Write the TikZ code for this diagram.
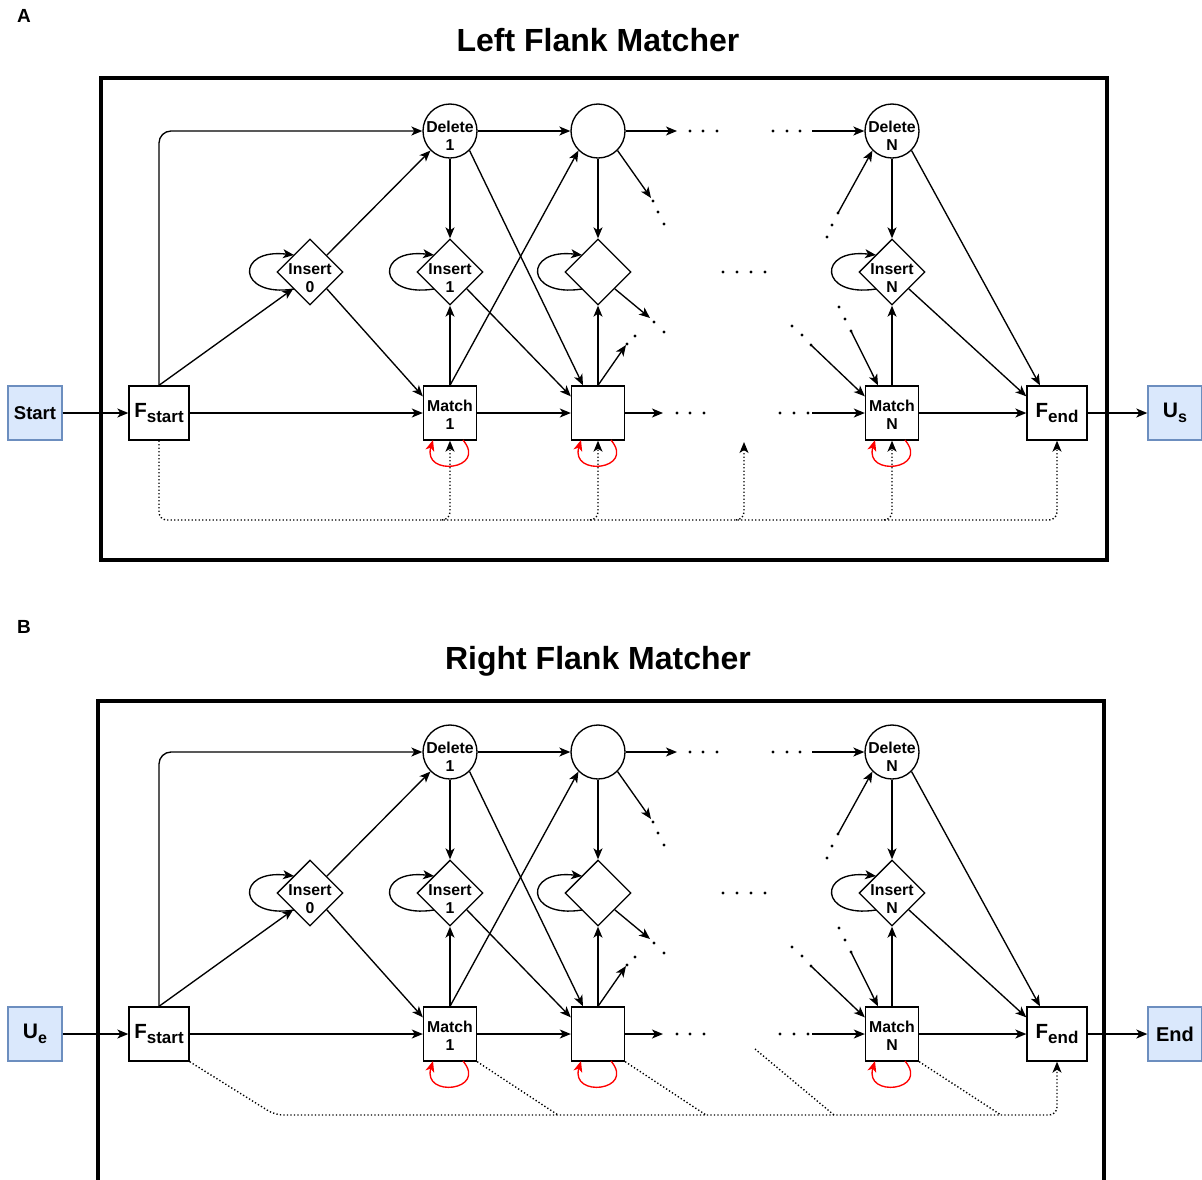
\documentclass[tikz,border=0pt]{standalone}
\usepackage{fontspec}
\setmainfont{Liberation Sans}
\usetikzlibrary{arrows.meta,shapes.geometric,calc}
\definecolor{termfill}{HTML}{DAE8FC}
\definecolor{termborder}{HTML}{6C8EBF}
\tikzset{
  tipstyle/.style={-{Stealth[length=11pt,width=9pt,inset=3pt]}},
  ln/.style={line width=1.35pt, draw=black},
  arr/.style={ln, tipstyle},
  box/.style={draw, line width=1.35pt, minimum width=53pt, minimum height=54pt, inner sep=0pt, align=center, fill=white, font=\bfseries\fontsize{15.5}{18}\selectfont},
  fbox/.style={box, minimum width=60pt},
  termbox/.style={draw=termborder, fill=termfill, line width=1.35pt, minimum width=54pt, minimum height=54pt, inner sep=0pt, font=\bfseries\fontsize{20}{24}\selectfont},
  circ/.style={circle, draw, fill=white, line width=1.35pt, minimum size=54pt, inner sep=0pt},
  diam/.style={diamond, draw, fill=white, line width=1.35pt, minimum width=66pt, minimum height=66pt, inner sep=0pt, aspect=1},
  lbl/.style={font=\bfseries\fontsize{15.8}{18}\selectfont, align=center, inner sep=0pt},
  dotline/.style={line width=1.4pt, dash pattern=on 1.3pt off 2.2pt},
  redloop/.style={draw=red, line width=1.35pt, -{Stealth[length=11pt,width=9pt,inset=3pt,fill=red]}},
  frame/.style={line width=4pt},
  titlestyle/.style={font=\bfseries\fontsize{32}{38}\selectfont},
  panellabel/.style={font=\bfseries\fontsize{19}{22}\selectfont},
}
\newcommand\pdot[1]{\fill (#1) circle (1.6pt);}
\newcommand\insloop[1]{\draw[arr] ([shift={(-16,17)}]#1.center) .. controls ([shift={(-73,26)}]#1.center) and ([shift={(-75,-24)}]#1.center) .. ([shift={(-16,-17)}]#1.center);}
\newcommand\matchloop[1]{\draw[redloop] ([shift={(13,27)}]#1.center) .. controls ([shift={(38,57)}]#1.center) and ([shift={(-28,64)}]#1.center) .. ([shift={(-17,27)}]#1.center);}
\newcommand\flankcore[1]{%
  \coordinate (#1i0c) at (310,272);
  \coordinate (#1i1c) at (450,272);
  \coordinate (#1i2c) at (598,272);
  \coordinate (#1inc) at (892,272);
  \insloop{#1i0c}\insloop{#1i1c}\insloop{#1i2c}\insloop{#1inc}
  \node[fbox] (#1fs) at (159,413) {\fontsize{20.5}{24}\selectfont F\raisebox{-5pt}{\fontsize{17}{20}\selectfont start}};
  \node[box, label={[lbl, yshift=-2pt]center:Match\\1}] (#1m1) at (450,413) {};
  \node[box] (#1b2) at (598,413) {};
  \node[box, label={[lbl, yshift=-2pt]center:Match\\N}] (#1mn) at (892,413) {};
  \node[fbox] (#1fe) at (1057,413) {\fontsize{20.5}{24}\selectfont F\raisebox{-5pt}{\fontsize{17}{20}\selectfont end}};
  \node[circ, label={[lbl, yshift=-5pt]center:Delete\\1}] (#1d1) at (450,131) {};
  \node[circ] (#1d2) at (598,131) {};
  \node[circ, label={[lbl, yshift=-5pt]center:Delete\\N}] (#1dn) at (892,131) {};
  \node[diam, label={[lbl, yshift=-6pt]center:Insert\\0}] (#1i0) at (310,272) {};
  \node[diam, label={[lbl, yshift=-6pt]center:Insert\\1}] (#1i1) at (450,272) {};
  \node[diam] (#1i2) at (598,272) {};
  \node[diam, label={[lbl, yshift=-6pt]center:Insert\\N}] (#1in) at (892,272) {};
  \coordinate (#1e1) at (677,131);
  \coordinate (#1e2) at (651,198);
  \coordinate (#1e3) at (650,318);
  \coordinate (#1e4) at (626,345);
  \coordinate (#1e5) at (663,413);
  \coordinate (#1e6) at (812,413);
  \coordinate (#1e7) at (838,213);
  \coordinate (#1e8) at (851,331);
  \coordinate (#1e9) at (811,345);
  \coordinate (#1e10) at (812,131);
  \draw[arr, rounded corners=12pt] (#1fs.north) |- (#1d1.west);
  \draw[arr] (#1fs.north) -- (#1i0.south west);
  \draw[arr] (#1fs.east) -- (#1m1.west);
  \draw[arr] (#1i0.north east) -- (#1d1.south west);
  \draw[arr] (#1i0.south east) -- ([yshift=-11pt]#1m1.north west);
  \draw[arr] (#1d1.east) -- (#1d2.west);
  \draw[arr] (#1d1.south) -- (#1i1.north);
  \draw[arr] (#1d1.south east) -- ([xshift=-15pt]#1b2.north);
  \draw[arr] (#1i1.south east) -- ([yshift=-11pt]#1b2.north west);
  \draw[arr] (#1m1.north) -- (#1i1.south);
  \draw[arr] (#1m1.north) -- (#1d2.south west);
  \draw[arr] (#1m1.east) -- (#1b2.west);
  \draw[arr] (#1d2.south) -- (#1i2.north);
  \draw[arr] (#1d2.east) -- (#1e1);
  \pdot{690,131}\pdot{703,131}\pdot{717,131}
  \draw[arr] (#1d2.south east) -- (#1e2);
  \pdot{653,201}\pdot{658,212}\pdot{664,224}
  \draw[arr] (#1i2.south east) -- (#1e3);
  \pdot{654,322}\pdot{664,332}
  \draw[arr] (#1b2.north) -- (#1e4);
  \pdot{627,344}\pdot{635,336}
  \draw[arr] (#1b2.north) -- (#1i2.south);
  \draw[arr] (#1b2.east) -- (#1e5);
  \pdot{677,413}\pdot{690,413}\pdot{704,413}
  \pdot{780,413}\pdot{794,413}\pdot{808,413}
  \draw[arr] (#1e6) -- (#1mn.west);
  \pdot{723,272}\pdot{737,272}\pdot{751,272}\pdot{765,272}
  \pdot{773,131}\pdot{787,131}\pdot{800,131}
  \draw[arr] (#1e10) -- (#1dn.west);
  \pdot{827,237}\pdot{832,225}\pdot{838,213}
  \draw[arr] (#1e7) -- (#1dn.south west);
  \draw[arr] (#1dn.south) -- (#1in.north);
  \draw[arr] (#1dn.south east) -- ([xshift=-17pt]#1fe.north);
  \draw[arr] (#1in.south east) -- ([yshift=-11pt]#1fe.north west);
  \pdot{839,307}\pdot{845,319}\pdot{851,331}
  \draw[arr] (#1e8) -- ([xshift=-14pt]#1mn.north);
  \pdot{792,326}\pdot{802,335}\pdot{811,345}
  \draw[arr] (#1e9) -- ([yshift=-11pt]#1mn.north west);
  \draw[arr] (#1mn.north) -- (#1in.south);
  \draw[arr] (#1mn.east) -- (#1fe.west);
  \matchloop{#1m1}\matchloop{#1b2}\matchloop{#1mn}
}
\begin{document}
\begin{tikzpicture}[x=1pt, y=-1pt]
\useasboundingbox[fill=white] (0,0) rectangle (1202,1179);
% ---------------- Panel A ----------------
\node[panellabel] (la) at (24,16) {A};
\node[titlestyle] (ta) at (598,40) {Left Flank Matcher};
\draw[frame] (101,78) rectangle (1107,560);
\flankcore{a}
\node[termbox] (start) at (35,413) {\fontsize{18.5}{22}\selectfont Start};
\node[termbox] (us) at (1175,413) {\fontsize{21}{24}\selectfont U\raisebox{-5pt}{\fontsize{16}{19}\selectfont s}};
\draw[arr] (start.east) -- (afs.west);
\draw[arr] (afe.east) -- (us.west);
\coordinate (ag) at (744,442);
\draw[dotline, tipstyle, rounded corners=8pt] (afs.south) -- (159,520) -- (1057,520) -- (afe.south);
\draw[dotline, tipstyle, rounded corners=8pt] (442,520) -- (450,520) -- (am1.south);
\draw[dotline, tipstyle, rounded corners=8pt] (590,520) -- (598,520) -- (ab2.south);
\draw[dotline, tipstyle, rounded corners=8pt] (736,520) -- (744,520) -- (ag);
\draw[dotline, tipstyle, rounded corners=8pt] (884,520) -- (892,520) -- (amn.south);
% ---------------- Panel B ----------------
\node[panellabel] (lb) at (24,627) {B};
\node[titlestyle] (tb) at (598,661) {Right Flank Matcher};
\draw[frame] (98,1190) -- (98,701) -- (1104,701) -- (1104,1190);
\begin{scope}[yshift=-621pt]
\flankcore{b}
\end{scope}
\node[termbox] (ue) at (35,1034) {\fontsize{21}{24}\selectfont U\raisebox{-5pt}{\fontsize{16}{19}\selectfont e}};
\node[termbox] (endn) at (1175,1034) {End};
\draw[arr] (ue.east) -- (bfs.west);
\draw[arr] (bfe.east) -- (endn.west);
\coordinate (bg) at (755,1049);
\draw[dotline, tipstyle, rounded corners=8pt] (bfs.south east) -- (275,1115) -- (1057,1115) -- (bfe.south);
\draw[dotline] (bm1.south east) -- (558,1115);
\draw[dotline] (bb2.south east) -- (706,1115);
\draw[dotline] (bg) -- (834,1115);
\draw[dotline] (bmn.south east) -- (1001,1115);
\end{tikzpicture}
\end{document}
